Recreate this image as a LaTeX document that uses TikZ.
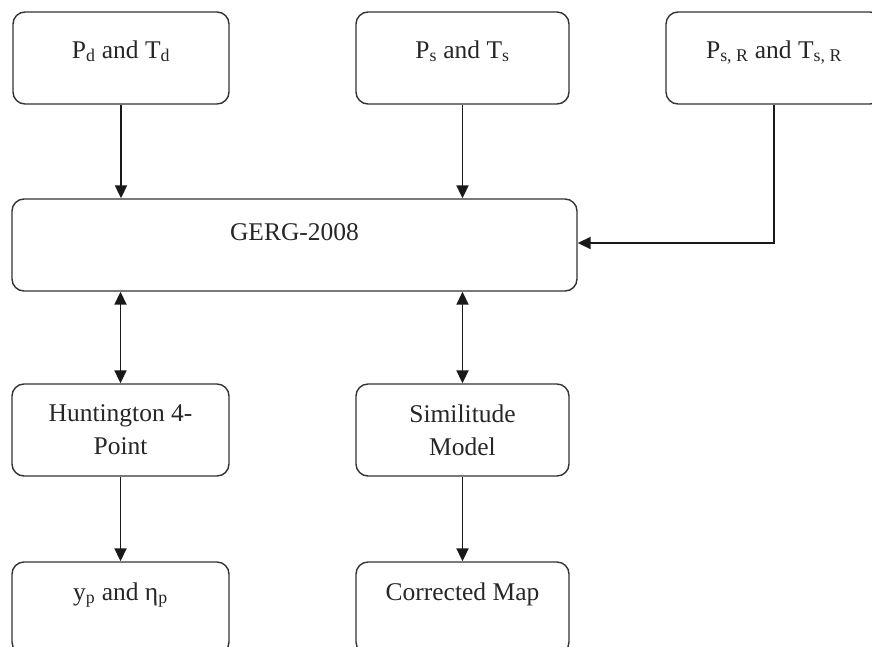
\documentclass[tikz,border=0pt]{standalone}
\usepackage{fontspec}
\setmainfont{Liberation Serif}
\usetikzlibrary{arrows.meta}
\begin{document}
\begin{tikzpicture}[x=1pt,y=-1pt,
  box/.style={draw=black!80, line width=1.4pt, rounded corners=12pt,
    minimum height=92pt, inner sep=0pt, align=center,
    font=\fontsize{25.5}{33}\selectfont, text=black!85},
  up/.style={text height=18pt, text depth=#1},
  conn/.style={line width=1.9pt, draw=black!90},
  tip/.style={-{Triangle[length=13pt,width=12pt]}},
  tips/.style={{Triangle[length=13pt,width=12pt]}-{Triangle[length=13pt,width=12pt]}}]
\useasboundingbox (0,0) rectangle (872,646);
\clip (0,0) rectangle (872,646);

\node[box, up=18pt, minimum width=216pt] (pd) at (121,58) {P\textsubscript{d} and T\textsubscript{d}};
\node[box, up=18pt, minimum width=213pt] (ps) at (462.5,58) {P\textsubscript{s} and T\textsubscript{s}};
\node[box, up=18pt, minimum width=216pt] (psr) at (774,58) {P\textsubscript{s, R} and T\textsubscript{s, R}};
\node[box, up=28pt, minimum width=565pt] (gerg) at (294.5,245) {GERG-2008};
\node[box, minimum width=217pt] (hunt) at (120.5,430) {Huntington 4-\\Point};
\node[box, minimum width=213pt] (sim) at (462.5,430) {Similitude\\Model};
\node[box, up=34pt, minimum width=217pt] (yp) at (120.5,608) {y\textsubscript{p} and η\textsubscript{p}};
\node[box, up=34pt, minimum width=213pt] (cm) at (462.5,608) {Corrected Map};

\draw[conn, tip] (pd.south) -- (pd.south |- gerg.north);
\draw[conn, tip] (ps.south) -- (ps.south |- gerg.north);
\draw[conn, tip] (psr.south) |- ([yshift=2pt]gerg.east);
\draw[conn, tips] (hunt.north |- gerg.south) -- (hunt.north);
\draw[conn, tips] (sim.north |- gerg.south) -- (sim.north);
\draw[conn, tip] (hunt.south) -- (yp.north);
\draw[conn, tip] (sim.south) -- (cm.north);
\end{tikzpicture}
\end{document}
